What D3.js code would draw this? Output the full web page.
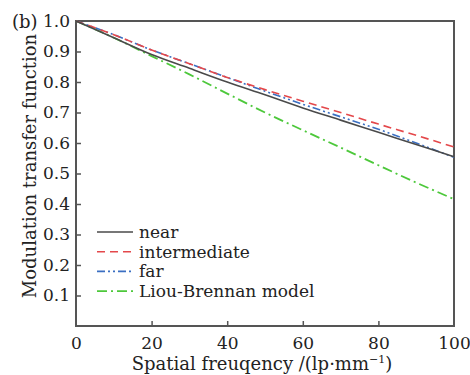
<!DOCTYPE html>
<html>
<head>
<meta charset="utf-8">
<script src="https://cdn.jsdelivr.net/npm/d3@7"></script>
<style>
  body { margin: 0; background: #fff; }
  text { font-family: "DejaVu Serif", "Liberation Serif", serif; fill: #222; }
</style>
</head>
<body>
<svg id="chart" width="470" height="375"></svg>
<script>
// spatial frequency samples (lp/mm)
const freq = [0, 10, 20, 30, 40, 50, 60, 70, 80, 90, 100];

// MTF values
const nearMTF = [1.0, 0.945, 0.89, 0.845, 0.80, 0.758, 0.715, 0.675, 0.635, 0.595, 0.555];
const intermediateMTF = [1.0, 0.955, 0.905, 0.86, 0.815, 0.775, 0.737, 0.70, 0.662, 0.625, 0.587];
const farMTF = [1.0, 0.955, 0.905, 0.86, 0.815, 0.77, 0.727, 0.686, 0.645, 0.60, 0.553];
const liouMTF = [1.0, 0.945, 0.885, 0.825, 0.762, 0.70, 0.642, 0.585, 0.527, 0.47, 0.416];

const seriesNames = ['near', 'intermediate', 'far', 'Liou-Brennan model'];
const xTicks = [0, 20, 40, 60, 80, 100];
const yTicks = [0.1, 0.2, 0.3, 0.4, 0.5, 0.6, 0.7, 0.8, 0.9, 1.0];

const series = [
  { name: seriesNames[0], values: nearMTF, color: '#4a4a4a', dash: null, width: 1.6 },
  { name: seriesNames[1], values: intermediateMTF, color: '#e4484b', dash: '8,5', width: 1.6 },
  { name: seriesNames[2], values: farMTF, color: '#3b6fc2', dash: '8,3,2,3,2,3', width: 1.6 },
  { name: seriesNames[3], values: liouMTF, color: '#4dc83b', dash: '10,4,2,4', width: 1.8 }
];

const svg = d3.select('#chart');
const plotL = 76, plotR = 454, plotT = 21, plotB = 326;

const x = d3.scaleLinear().domain([0, 100]).range([plotL, plotR]);
const y = d3.scaleLinear().domain([0, 1.0]).range([plotB, plotT]);

// frame
svg.append('rect')
  .attr('x', plotL).attr('y', plotT)
  .attr('width', plotR - plotL).attr('height', plotB - plotT)
  .attr('fill', 'none').attr('stroke', '#555').attr('stroke-width', 2);

// bottom axis, ticks pointing inward
const xAxis = svg.append('g')
  .attr('transform', 'translate(0,' + plotB + ')')
  .call(d3.axisBottom(x).tickValues(xTicks).tickSize(-5).tickPadding(11).tickFormat(d3.format('d')));
xAxis.select('.domain').remove();
xAxis.selectAll('line').attr('stroke', '#555').attr('stroke-width', 1.5)
  .filter(d => d === 0 || d === 100).remove();
xAxis.selectAll('text').style('font-size', '17px').attr('fill', '#222');

// left axis
const yAxis = svg.append('g')
  .attr('transform', 'translate(' + plotL + ',0)')
  .call(d3.axisLeft(y).tickValues(yTicks).tickSize(-5).tickPadding(6).tickFormat(d3.format('.1f')));
yAxis.select('.domain').remove();
yAxis.selectAll('line').attr('stroke', '#555').attr('stroke-width', 1.5)
  .filter(d => d === 1.0).remove();
yAxis.selectAll('text').style('font-size', '17px').attr('fill', '#222');

// curves
const line = d3.line()
  .x((d, i) => x(freq[i]))
  .y(d => y(d))
  .curve(d3.curveMonotoneX);

svg.append('g').selectAll('path')
  .data(series.slice().reverse())
  .join('path')
  .attr('d', d => line(d.values))
  .attr('fill', 'none')
  .attr('stroke', d => d.color)
  .attr('stroke-width', d => d.width)
  .attr('stroke-dasharray', d => d.dash);

// legend
const legend = svg.append('g').attr('transform', 'translate(97,232)');
const item = legend.selectAll('g')
  .data(series)
  .join('g')
  .attr('transform', (d, i) => 'translate(0,' + i * 19.7 + ')');
item.append('line')
  .attr('x1', 0).attr('x2', 36)
  .attr('stroke', d => d.color)
  .attr('stroke-width', d => d.width)
  .attr('stroke-dasharray', d => d.dash);
item.append('text')
  .attr('x', 42).attr('y', 6)
  .style('font-size', '17px')
  .text(d => d.name);

// axis titles
svg.append('text')
  .attr('transform', 'translate(36,166) rotate(-90)')
  .attr('text-anchor', 'middle')
  .style('font-size', '18px')
  .text('Modulation transfer function');

const xt = svg.append('text')
  .attr('x', 262).attr('y', 370)
  .attr('text-anchor', 'middle')
  .style('font-size', '18px');
xt.append('tspan').text('Spatial freuqency /(lp\u00b7mm');
xt.append('tspan').attr('dy', -7).style('font-size', '11px').text('\u22121');
xt.append('tspan').attr('dy', 7).text(')');

svg.append('text')
  .attr('x', 12).attr('y', 28)
  .style('font-size', '18px')
  .text('(b)');
</script>
</body>
</html>
